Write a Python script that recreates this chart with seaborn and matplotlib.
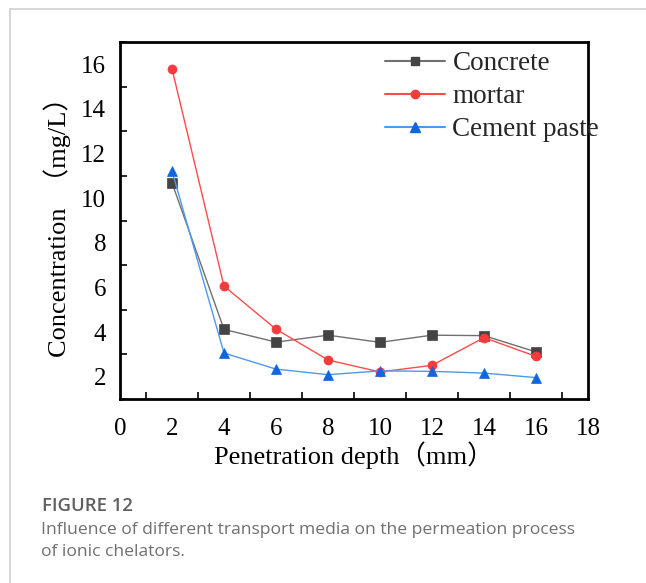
import matplotlib
matplotlib.use("Agg")
import matplotlib.pyplot as plt
import seaborn as sns
import pandas as pd
from matplotlib.lines import Line2D
from matplotlib.ticker import MultipleLocator

depth = [2, 4, 6, 8, 10, 12, 14, 16]
concrete = [10.69, 4.12, 3.55, 3.86, 3.54, 3.86, 3.84, 3.11]
mortar = [15.80, 6.06, 4.13, 2.75, 2.21, 2.51, 3.75, 2.91]
cement = [11.22, 3.06, 2.34, 2.09, 2.26, 2.24, 2.16, 1.96]
series_names = ["Concrete", "mortar", "Cement paste"]
x_ticks = [0, 2, 4, 6, 8, 10, 12, 14, 16, 18]
y_ticks = [2, 4, 6, 8, 10, 12, 14, 16]

sns.set_theme(style="white")
serif = ["Liberation Serif", "Noto Sans CJK SC", "DejaVu Serif"]
plt.rcParams["font.family"] = serif

fig = plt.figure(figsize=(6.46, 5.83), dpi=100)
W, H = 646, 583
ax = fig.add_axes([120 / W, 1 - 399 / H, (588 - 120) / W, (399 - 42) / H])

styles = [
    dict(line="#707070", mk="#444444", marker="s", ms=6.5),
    dict(line="#ff4a4a", mk="#f53b3b", marker="o", ms=6.5),
    dict(line="#4f98ec", mk="#0f66dd", marker="^", ms=7.5),
]
values = [concrete, mortar, cement]
handles = []
for name, vals, st in zip(series_names, values, styles):
    df = pd.DataFrame({"x": depth, "y": vals})
    sns.lineplot(data=df, x="x", y="y", ax=ax, color=st["line"], linewidth=1.0,
                 marker=st["marker"], markersize=st["ms"], markerfacecolor=st["mk"],
                 markeredgecolor=st["mk"], markeredgewidth=0.5)
    handles.append(Line2D([0], [0], color=st["line"], lw=1.5, marker=st["marker"],
                          markersize=st["ms"] - 0.5, markerfacecolor=st["mk"], markeredgecolor=st["mk"]))

ax.set_xlim(0, 18)
ax.set_ylim(1, 17)
ax.set_xticks(x_ticks)
ax.set_yticks(y_ticks)
ax.xaxis.set_minor_locator(MultipleLocator(1))
ax.yaxis.set_minor_locator(MultipleLocator(1))
ax.tick_params(axis="both", which="major", direction="in", length=9, width=1.6,
               labelsize=18, colors="black", top=False, right=False)
ax.tick_params(axis="x", which="major", pad=14)
ax.tick_params(axis="y", which="major", pad=10)
ax.tick_params(axis="both", which="minor", direction="in", length=5, width=1.4,
               top=False, right=False, bottom=True, left=True)
for lab in ax.get_xticklabels() + ax.get_yticklabels():
    lab.set_family(serif)
for sp in ax.spines.values():
    sp.set_visible(True)
    sp.set_color("black")
    sp.set_linewidth(2.0)
ax.grid(False)

ax.set_xlabel("Penetration depth（mm）", fontsize=19, family=serif, labelpad=1, color="black")
ax.set_ylabel("Concentration  （mg/L）", fontsize=19, family=serif, labelpad=7, color="black")

leg = fig.legend(handles, series_names, loc="upper left", bbox_to_anchor=(385 / W, 1 - 51 / H),
                 frameon=False, prop={"family": serif, "size": 19.5},
                 handlelength=2.2, handletextpad=0.29, labelspacing=0.3,
                 borderaxespad=0, borderpad=0)

# panel frame
fig.add_artist(Line2D([10 / W, 1], [1 - 9 / H, 1 - 9 / H], color="#d0d0d0", lw=1.2, transform=fig.transFigure))
fig.add_artist(Line2D([10 / W, 10 / W], [0, 1 - 9 / H], color="#d0d0d0", lw=1.2, transform=fig.transFigure))

cap_family = ["Open Sans", "DejaVu Sans"]
fig.text(42 / W, 1 - 506 / H, "FIGURE 12", fontsize=13.3, color="#5f5f5f", family=cap_family,
         va="center", ha="left", fontweight="semibold")
fig.text(41 / W, 1 - 530 / H, "Influence of different transport media on the permeation process",
         fontsize=12.6, color="#707070", family=cap_family, va="center", ha="left")
fig.text(41 / W, 1 - 552 / H, "of ionic chelators.",
         fontsize=12.6, color="#707070", family=cap_family, va="center", ha="left")

fig.savefig("out.png", dpi=100, facecolor="white")
